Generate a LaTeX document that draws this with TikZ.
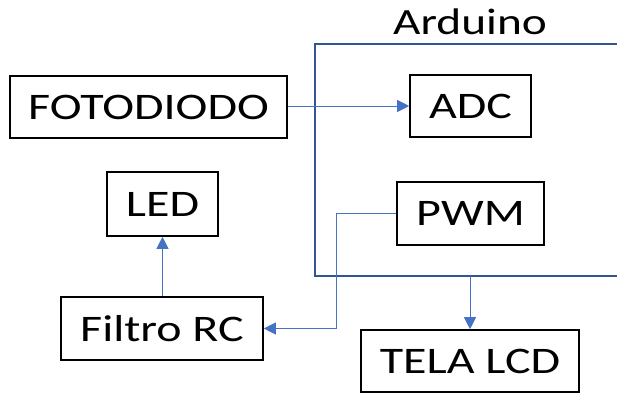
\documentclass[tikz,border=0pt]{standalone}
\usepackage{fontspec}
\setmainfont{Carlito}[FakeStretch=1.28]
\usetikzlibrary{arrows.meta,positioning}
\definecolor{frameblue}{HTML}{2F5597}
\definecolor{linkblue}{HTML}{4472C4}

\begin{document}
\begin{tikzpicture}[x=1pt,y=-1pt,
    blk/.style={draw=black,line width=1.6pt,inner sep=0pt,
      font=\fontsize{37.5}{40}\selectfont},
    link/.style={draw=linkblue,line width=0.9pt,
      -{Triangle[width=12pt,length=12pt]}}]
  \useasboundingbox (0,0) rectangle (617,393);
  % placa Arduino (lado direito fora da figura)
  \draw[frameblue,line width=2.2pt] (617,44) -- (315,44) -- (315,276) -- (617,276);
  \node[font=\fontsize{37}{40}\selectfont] (ardlbl) at (470,22) {Arduino};
  \coordinate (ardout) at (470,276);
  % blocos
  \node[blk,minimum width=277pt,minimum height=62pt] (foto) at (148.5,107) {FOTODIODO};
  \node[blk,minimum width=121pt,minimum height=62pt] (adc) at (470.5,106) {ADC};
  \node[blk,minimum width=147pt,minimum height=63pt] (pwm) at (470.5,213.5) {PWM};
  \node[blk,minimum width=111pt,minimum height=64pt] (led) at (162.5,204) {LED};
  \node[blk,minimum width=202pt,minimum height=63pt] (filtro) at (162,328.5) {Filtro RC};
  \node[blk,minimum width=218pt,minimum height=62pt] (tela) at (470,361) {TELA LCD};
  % ligacoes
  \draw[link] (foto.east |- adc.west) -- (adc.west);
  \draw[link] (led.south |- filtro.north) -- (led.south);
  \draw[link] (pwm.west) -- ++(-60,0) |- (filtro.east);
  \draw[link] (ardout) -- (tela.north);
\end{tikzpicture}
\end{document}
